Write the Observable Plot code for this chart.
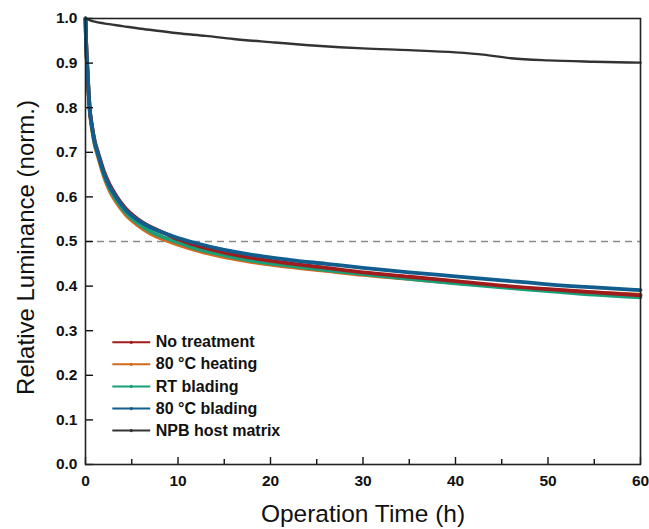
<!DOCTYPE html>
<html>
<head>
<meta charset="utf-8">
<script src="https://cdn.jsdelivr.net/npm/d3@7"></script>
<script src="https://cdn.jsdelivr.net/npm/@observablehq/plot@0.6"></script>
<style>
  html, body { margin: 0; padding: 0; background: #fff; }
  #chart svg { font-family: Arial, "Liberation Sans", sans-serif; }
</style>
</head>
<body>
<div id="chart"></div>
<script>
// ---- data ----
const seriesNames = ["No treatment", "80 \u00B0C heating", "RT blading", "80 \u00B0C blading", "NPB host matrix"];
const seriesColors = ["#a01c1c", "#d2691e", "#17a079", "#115d8e", "#333333"];

const tRed = [0, 0.05, 0.1, 0.2, 0.3, 0.45, 0.7, 1.0, 1.35, 2.0, 2.6, 3.3, 4.3, 5.6, 7.0, 8.5, 10, 12, 15, 18, 22, 26, 30, 35, 40, 45, 50, 55, 60];
const vRed = [1.0, 0.96, 0.93, 0.89, 0.85, 0.80, 0.76, 0.725, 0.70, 0.657, 0.628, 0.603, 0.575, 0.551, 0.533, 0.519, 0.505, 0.491, 0.475, 0.463, 0.451, 0.441, 0.431, 0.421, 0.411, 0.401, 0.393, 0.386, 0.379];

const tOrange = [0, 0.05, 0.1, 0.2, 0.3, 0.45, 0.7, 1.0, 1.35, 2.0, 2.6, 3.3, 4.3, 5.6, 7.0, 8.5, 10, 12, 15, 18, 22, 26, 30, 35, 40, 45, 50, 55, 60];
const vOrange = [1.0, 0.955, 0.925, 0.885, 0.845, 0.795, 0.752, 0.716, 0.69, 0.645, 0.614, 0.589, 0.561, 0.537, 0.518, 0.504, 0.493, 0.48, 0.465, 0.454, 0.443, 0.434, 0.425, 0.416, 0.407, 0.399, 0.392, 0.386, 0.381];

const tGreen = [0, 0.05, 0.1, 0.2, 0.3, 0.45, 0.7, 1.0, 1.35, 2.0, 2.6, 3.3, 4.3, 5.6, 7.0, 8.5, 10, 12, 15, 18, 22, 26, 30, 35, 40, 45, 50, 55, 60];
const vGreen = [1.0, 0.958, 0.928, 0.888, 0.848, 0.798, 0.756, 0.72, 0.695, 0.65, 0.619, 0.595, 0.566, 0.542, 0.523, 0.509, 0.498, 0.484, 0.469, 0.457, 0.446, 0.436, 0.427, 0.416, 0.406, 0.397, 0.389, 0.381, 0.375];

const tBlue = [0, 0.05, 0.1, 0.2, 0.3, 0.45, 0.7, 1.0, 1.35, 2.0, 2.6, 3.3, 4.3, 5.6, 7.0, 8.5, 10, 12, 15, 18, 22, 26, 30, 35, 40, 45, 50, 55, 60];
const vBlue = [1.0, 0.958, 0.928, 0.888, 0.848, 0.798, 0.757, 0.722, 0.697, 0.653, 0.624, 0.6, 0.572, 0.549, 0.532, 0.519, 0.508, 0.496, 0.481, 0.47, 0.459, 0.45, 0.441, 0.431, 0.422, 0.413, 0.404, 0.397, 0.391];

const tBlack = [0, 0.5, 1, 2, 4, 6, 8, 10, 13, 16, 20, 25, 30, 35, 40, 43, 46, 50, 55, 60];
const vBlack = [1.0, 0.996, 0.993, 0.989, 0.983, 0.977, 0.972, 0.967, 0.961, 0.954, 0.947, 0.939, 0.933, 0.929, 0.924, 0.919, 0.911, 0.906, 0.903, 0.901];

const xTicks = [0, 10, 20, 30, 40, 50, 60];
const xMinorTicks = [5, 15, 25, 35, 45, 55];
const yTicks = [0.0, 0.1, 0.2, 0.3, 0.4, 0.5, 0.6, 0.7, 0.8, 0.9, 1.0];
const halfLevel = [0.5];
const xTitle = "Operation Time (h)";
const yTitle = "Relative Luminance (norm.)";

// ---- build tables ----
const tList = [tRed, tOrange, tGreen, tBlue, tBlack];
const vList = [vRed, vOrange, vGreen, vBlue, vBlack];
const rows = [];
// draw order: orange, green, red, blue, black
const drawOrder = [1, 2, 0, 3, 4];
drawOrder.forEach((si, k) => {
  tList[si].forEach((t, i) => rows.push({series: seriesNames[si], t, v: vList[si][i], order: k}));
});

// legend layout (in data units)
const legX1 = 2.9, legX2 = 7.0, legTextX = 7.6, legY0 = 0.274, legStep = 0.0495;
const legend = seriesNames.map((name, i) => ({name, color: seriesColors[i], y: legY0 - i * legStep}));

const colorScale = {domain: seriesNames, range: seriesColors};

const plot = Plot.plot({
  width: 649,
  height: 529,
  marginLeft: 85,
  marginRight: 9,
  marginTop: 18,
  marginBottom: 65,
  x: {domain: [0, 60]},
  y: {domain: [0, 1]},
  color: colorScale,
  style: {fontFamily: "Arial, 'Liberation Sans', sans-serif", color: "#111"},
  marks: [
    Plot.ruleY(halfLevel, {x1: 0, x2: 60, stroke: "#8a8a8a", strokeWidth: 1.6, strokeDasharray: "7,5"}),
    ...drawOrder.slice(0, 4).map(si =>
      Plot.line(rows.filter(r => r.series === seriesNames[si]), {x: "t", y: "v", stroke: seriesColors[si], strokeWidth: 3.8, curve: "monotone-x"})
    ),
    Plot.line(rows.filter(r => r.series === seriesNames[4]), {x: "t", y: "v", stroke: seriesColors[4], strokeWidth: 2.4, curve: "monotone-x"}),
    // legend
    Plot.link(legend, {x1: legX1, x2: legX2, y1: "y", y2: "y", stroke: "color", strokeWidth: 2}),
    Plot.dot(legend, {x: (legX1 + legX2) / 2, y: "y", fill: "color", r: 1.6}),
    Plot.text(legend, {x: legTextX, y: "y", text: "name", textAnchor: "start", fontSize: 16, fontWeight: "bold", fill: "#111"}),
    // axes
    Plot.axisX({ticks: xTicks, tickSize: -7, tickPadding: 17, tickFormat: d => d, fontSize: 15.5, fontWeight: "bold", label: null, strokeWidth: 1.4}),
    Plot.axisX({ticks: xMinorTicks, tickSize: -5, tickFormat: null, text: null, label: null, strokeWidth: 1.4}),
    Plot.axisY({ticks: yTicks, tickSize: -8, tickPadding: 16, tickFormat: d3.format(".1f"), fontSize: 15.5, fontWeight: "bold", label: null, strokeWidth: 1.4}),
    Plot.text([xTitle], {text: d => d, frameAnchor: "bottom", textAnchor: "middle", dy: 57, fontSize: 24.5, fill: "#111"}),
    Plot.text([yTitle], {text: d => d, frameAnchor: "left", textAnchor: "middle", rotate: -90, dx: -59, dy: 6, fontSize: 24, fill: "#111"}),
    Plot.frame({stroke: "#222", strokeWidth: 1.6})
  ]
});
document.getElementById("chart").appendChild(plot);
</script>
</body>
</html>
